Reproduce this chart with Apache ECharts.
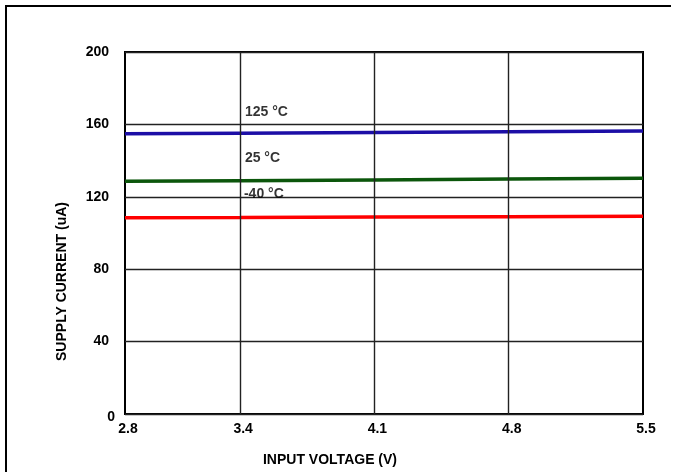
<!DOCTYPE html>
<html>
<head>
<meta charset="utf-8">
<script src="https://cdn.jsdelivr.net/npm/echarts@6/dist/echarts.min.js"></script>
<style>
html,body{margin:0;padding:0;background:#fff;overflow:hidden;}
#wrap{position:relative;width:673px;height:472px;overflow:hidden;}
#chart{position:absolute;left:0;top:0;width:673px;height:472px;}
#hline{position:absolute;left:5px;top:5px;width:666px;height:2px;background:#000;}
#vline{position:absolute;left:5px;top:5px;width:2px;height:467px;background:#000;}
</style>
</head>
<body>
<div id="wrap"><div id="chart"></div><div id="hline"></div><div id="vline"></div></div>
<script>
const xValues = [2.8, 3.4, 4.1, 4.8, 5.5];
const xTicks = [2.8, 3.4, 4.1, 4.8, 5.5];
const current125 = [154.8, 155.1, 155.5, 155.9, 156.3];
const current25 = [128.6, 128.9, 129.3, 129.8, 130.2];
const currentM40 = [108.4, 108.5, 108.8, 109.0, 109.3];
const seriesLabels = ['125 °C', '25 °C', '-40 °C'];
const labelX = [3.425, 3.425, 3.42];
const labelY = [166.6, 141.6, 121.4];

const FONT = '"Liberation Sans", Arial, sans-serif';
const pair = (vals) => xValues.map((x, i) => [x, vals[i]]);

const chart = echarts.init(document.getElementById('chart'), null, {renderer: 'canvas'});
chart.setOption({
  animation: false,
  backgroundColor: '#fff',
  grid: {left: 125, right: 30, top: 52, bottom: 53, show: true, borderColor: '#000', borderWidth: 2, backgroundColor: 'transparent'},
  xAxis: {
    type: 'value', min: 2.8, max: 5.5,
    name: 'INPUT VOLTAGE (V)', nameLocation: 'middle', nameGap: 39,
    nameTextStyle: {fontFamily: FONT, fontWeight: 'bold', fontSize: 14, color: '#000', padding: [0, 108, 0, 0]},
    axisLine: {show: false},
    axisTick: {show: false, customValues: xTicks},
    axisLabel: {customValues: xTicks, fontFamily: FONT, fontWeight: 'bold', fontSize: 14, color: '#000', margin: 8,
      padding: [0, 0, 0, 6], formatter: v => v.toFixed(1)},
    splitLine: {show: false}
  },
  yAxis: {
    type: 'value', min: 0, max: 200, interval: 40,
    name: 'SUPPLY CURRENT (uA)', nameLocation: 'middle', nameGap: 56,
    nameTextStyle: {fontFamily: FONT, fontWeight: 'bold', fontSize: 14, color: '#000', padding: [0, 97, 0, 0]},
    axisLine: {show: false},
    axisTick: {show: false},
    axisLabel: {fontFamily: FONT, fontWeight: 'bold', fontSize: 14, color: '#000', margin: 16,
      formatter: v => v === 0 ? '{z|0}' : String(v),
      rich: {z: {fontFamily: FONT, fontWeight: 'bold', fontSize: 14, color: '#000', padding: [6, -6, 0, 0]}}},
    splitLine: {show: true, lineStyle: {color: '#222', width: 1.4}}
  },
  series: [
    {
      type: 'line', data: [], silent: true,
      markLine: {
        silent: true, symbol: 'none', label: {show: false},
        lineStyle: {color: '#222', width: 1.4, type: 'solid'},
        data: xTicks.slice(1, -1).map(v => ({xAxis: v}))
      }
    },
    {type: 'line', data: pair(currentM40), showSymbol: false, lineStyle: {color: '#ff0000', width: 3.5}, z: 3},
    {type: 'line', data: pair(current25), showSymbol: false, lineStyle: {color: '#0b560b', width: 3.5}, z: 3},
    {type: 'line', data: pair(current125), showSymbol: false, lineStyle: {color: '#1c0ea6', width: 3.5}, z: 3},
    {
      type: 'scatter', symbolSize: 0, z: 5,
      data: seriesLabels.map((t, i) => [labelX[i], labelY[i], t]),
      label: {show: true, position: [0, 0], align: 'left', verticalAlign: 'middle',
        formatter: p => p.value[2], fontFamily: FONT, fontWeight: 'bold', fontSize: 14, color: '#000'}
    }
  ]
});
</script>
</body>
</html>
